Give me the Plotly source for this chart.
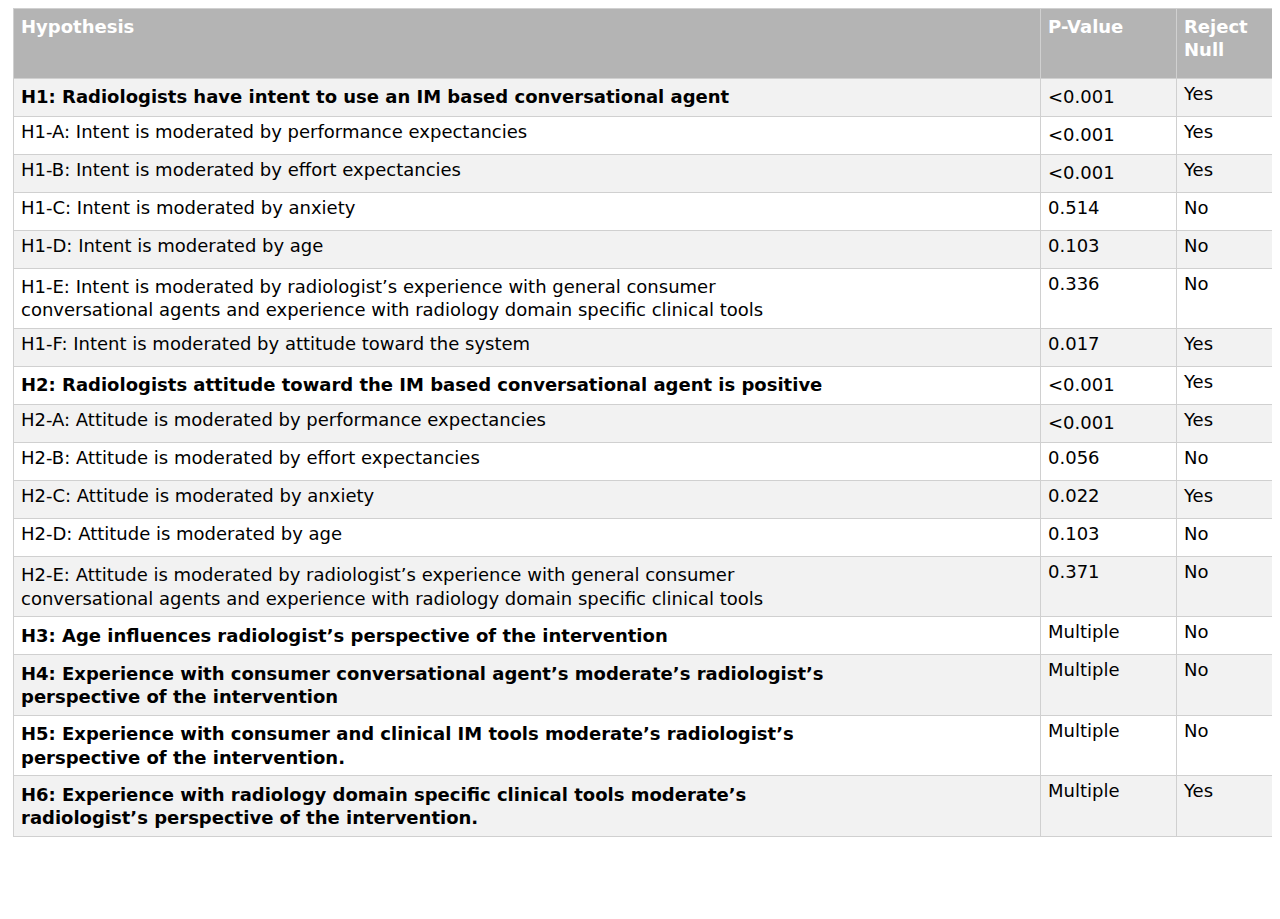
import plotly.graph_objects as go

hypotheses = [
    "<b>H1: Radiologists have intent to use an IM based conversational agent</b>",
    "H1-A: Intent is moderated by performance expectancies",
    "H1-B: Intent is moderated by effort expectancies",
    "H1-C: Intent is moderated by anxiety",
    "H1-D: Intent is moderated by age",
    "H1-E: Intent is moderated by radiologist’s experience with general consumer<br>conversational agents and experience with radiology domain specific clinical tools",
    "H1-F: Intent is moderated by attitude toward the system",
    "<b>H2: Radiologists attitude toward the IM based conversational agent is positive</b>",
    "H2-A: Attitude is moderated by performance expectancies",
    "H2-B: Attitude is moderated by effort expectancies",
    "H2-C: Attitude is moderated by anxiety",
    "H2-D: Attitude is moderated by age",
    "H2-E: Attitude is moderated by radiologist’s experience with general consumer<br>conversational agents and experience with radiology domain specific clinical tools",
    "<b>H3: Age influences radiologist’s perspective of the intervention</b>",
    "<b>H4: Experience with consumer conversational agent’s moderate’s radiologist’s<br>perspective of the intervention</b>",
    "<b>H5: Experience with consumer and clinical IM tools moderate’s radiologist’s<br>perspective of the intervention.</b>",
    "<b>H6: Experience with radiology domain specific clinical tools moderate’s<br>radiologist’s perspective of the intervention.</b>",
]
p_values = ["&lt;0.001", "&lt;0.001", "&lt;0.001", "0.514", "0.103", "0.336", "0.017",
            "&lt;0.001", "&lt;0.001", "0.056", "0.022", "0.103", "0.371",
            "Multiple", "Multiple", "Multiple", "Multiple"]
reject_null = ["Yes", "Yes", "Yes", "No", "No", "No", "Yes",
               "Yes", "Yes", "No", "Yes", "No", "No",
               "No", "No", "No", "Yes"]

fills = ["#F2F2F2" if i % 2 == 0 else "#FFFFFF" for i in range(len(hypotheses))]
font = "DejaVu Sans"

fig = go.Figure(go.Table(
    columnwidth=[1027, 136, 107],
    header=dict(
        values=["<b>Hypothesis</b>", "<b>P-Value</b>", "<b>Reject<br>Null</b>"],
        fill_color="#B4B4B4",
        line_color="#D0D0D0",
        font=dict(family=font, size=18, color="white"),
        align="left",
        height=70,
    ),
    cells=dict(
        values=[hypotheses, p_values, reject_null],
        fill_color=[fills, fills, fills],
        line_color="#D0D0D0",
        font=dict(family=font, size=18, color="black"),
        align="left",
        height=38,
    ),
    domain=dict(x=[0, 1], y=[0, 1]),
))
fig.update_layout(
    width=1280, height=919,
    margin=dict(l=5, r=5, t=0, b=0),
    paper_bgcolor="white",
)
fig.write_html("out.html")
